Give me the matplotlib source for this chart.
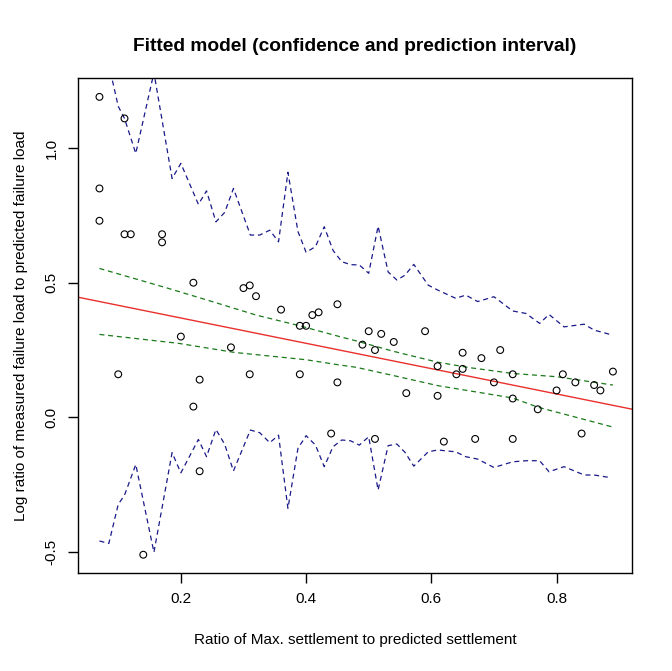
import matplotlib
matplotlib.use('Agg')
import matplotlib.pyplot as plt
import numpy as np

plt.rcParams['font.family'] = ['Liberation Sans', 'DejaVu Sans']

# observed points
x_obs = [0.07, 0.07, 0.07, 0.10, 0.11, 0.11, 0.12, 0.14, 0.17, 0.17,
         0.20, 0.22, 0.22, 0.23, 0.23, 0.28, 0.30, 0.31, 0.31, 0.32,
         0.36, 0.39, 0.39, 0.40, 0.41, 0.42, 0.44, 0.45, 0.45, 0.49,
         0.50, 0.51, 0.51, 0.52, 0.54, 0.56, 0.59, 0.61, 0.61, 0.62,
         0.64, 0.65, 0.65, 0.67, 0.68, 0.70, 0.71, 0.73, 0.73, 0.73,
         0.77, 0.80, 0.81, 0.83, 0.84, 0.86, 0.87, 0.89]
y_obs = [1.19, 0.85, 0.73, 0.16, 1.11, 0.68, 0.68, -0.51, 0.68, 0.65,
         0.30, 0.50, 0.04, 0.14, -0.20, 0.26, 0.48, 0.49, 0.16, 0.45,
         0.40, 0.34, 0.16, 0.34, 0.38, 0.39, -0.06, 0.42, 0.13, 0.27,
         0.32, 0.25, -0.08, 0.31, 0.28, 0.09, 0.32, 0.19, 0.08, -0.09,
         0.16, 0.24, 0.18, -0.08, 0.22, 0.13, 0.25, 0.16, 0.07, -0.08,
         0.03, 0.10, 0.16, 0.13, -0.06, 0.12, 0.10, 0.17]

# fitted line (abline)
fit_intercept = 0.463
fit_slope = -0.470

# confidence interval (green)
x_conf_up = [0.07, 0.18, 0.25, 0.32, 0.39, 0.455, 0.48, 0.54, 0.61, 0.66, 0.73, 0.80, 0.89]
y_conf_up = [0.553, 0.479, 0.430, 0.380, 0.340, 0.299, 0.284, 0.245, 0.205, 0.185, 0.163, 0.151, 0.120]
x_conf_lo = [0.07, 0.196, 0.286, 0.40, 0.455, 0.48, 0.54, 0.61, 0.73, 0.77, 0.89]
y_conf_lo = [0.308, 0.275, 0.241, 0.214, 0.194, 0.186, 0.155, 0.118, 0.072, 0.038, -0.036]

# prediction interval (blue)
x_pred = [0.07, 0.085, 0.10, 0.11, 0.128, 0.157, 0.186, 0.20, 0.228, 0.241,
          0.256, 0.27, 0.284, 0.311, 0.326, 0.342, 0.356, 0.371, 0.387, 0.40,
          0.415, 0.429, 0.443, 0.457, 0.471, 0.485, 0.50, 0.515, 0.531, 0.545,
          0.558, 0.572, 0.595, 0.61, 0.639, 0.655, 0.674, 0.70, 0.73, 0.751,
          0.773, 0.788, 0.812, 0.844, 0.86, 0.884]
y_pred_up = [1.32, 1.31, 1.155, 1.11, 0.98, 1.28, 0.887, 0.943, 0.791, 0.841,
             0.726, 0.761, 0.850, 0.677, 0.677, 0.695, 0.652, 0.910, 0.69, 0.613,
             0.634, 0.708, 0.62, 0.578, 0.567, 0.566, 0.535, 0.710, 0.54, 0.510,
             0.528, 0.568, 0.491, 0.473, 0.442, 0.454, 0.43, 0.448, 0.395, 0.386,
             0.349, 0.382, 0.336, 0.346, 0.324, 0.309]
y_pred_lo = [-0.459, -0.468, -0.323, -0.289, -0.175, -0.501, -0.131, -0.206, -0.082, -0.146,
             -0.045, -0.10, -0.199, -0.047, -0.057, -0.094, -0.066, -0.338, -0.115, -0.068,
             -0.103, -0.183, -0.109, -0.084, -0.087, -0.103, -0.072, -0.270, -0.105, -0.099,
             -0.13, -0.181, -0.128, -0.121, -0.128, -0.146, -0.155, -0.186, -0.165, -0.161,
             -0.161, -0.202, -0.183, -0.214, -0.214, -0.223]

fig = plt.figure(figsize=(6.72, 6.71), dpi=100)
ax = fig.add_axes([0.1165, 0.146, 0.8240, 0.7373])

ax.scatter(x_obs, y_obs, s=24, facecolors='none', edgecolors='black', linewidths=0.8, zorder=3)

x_lim = (0.0362, 0.9205)
x_line = np.array(x_lim)
ax.plot(x_line, fit_intercept + fit_slope * x_line, color='#e8302c', linewidth=1.0)

ax.plot(x_conf_up, y_conf_up, color='#1a7a1a', linewidth=0.9, dashes=(4, 3))
ax.plot(x_conf_lo, y_conf_lo, color='#1a7a1a', linewidth=0.9, dashes=(4, 3))
ax.plot(x_pred, y_pred_up, color='#1a1a8a', linewidth=0.9, dashes=(4, 3))
ax.plot(x_pred, y_pred_lo, color='#1a1a8a', linewidth=0.9, dashes=(4, 3))

ax.set_xlim(*x_lim)
ax.set_ylim(-0.578, 1.259)
ax.set_xticks([0.2, 0.4, 0.6, 0.8])
ax.set_yticks([-0.5, 0.0, 0.5, 1.0])
ax.set_xticklabels(['0.2', '0.4', '0.6', '0.8'])
ax.set_yticklabels(['-0.5', '0.0', '0.5', '1.0'], rotation=90, va='center')
ax.tick_params(direction='out', length=7, width=1, labelsize=11, pad=7, colors='black')
for spine in ax.spines.values():
    spine.set_linewidth(1.0)

ax.set_title('Fitted model (confidence and prediction interval)', fontsize=13.8,
             fontweight='bold', pad=20)
ax.set_xlabel('Ratio of Max. settlement to predicted settlement', fontsize=11, labelpad=19)
ax.set_ylabel('Log ratio of measured failure load to predicted failure load', fontsize=11, labelpad=12)

fig.savefig('out.png', dpi=100)
